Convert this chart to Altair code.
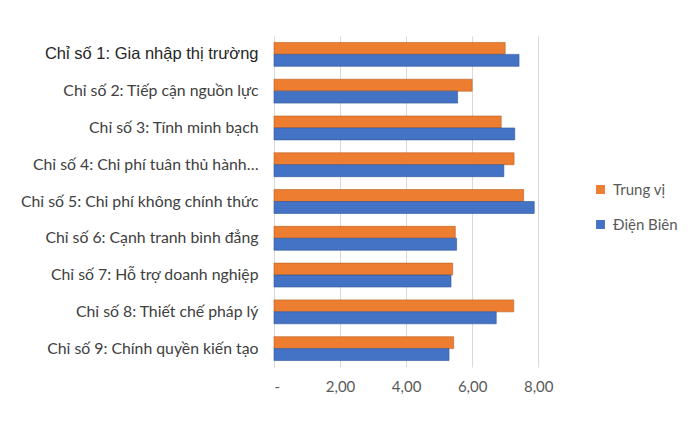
import altair as alt
import pandas as pd

categories = [
    "Chỉ số 1: Gia nhập thị trường",
    "Chỉ số 2: Tiếp cận nguồn lực",
    "Chỉ số 3: Tính minh bạch",
    "Chỉ số 4: Chi phí tuân thủ hành…",
    "Chỉ số 5: Chi phí không chính thức",
    "Chỉ số 6: Cạnh tranh bình đẳng",
    "Chỉ số 7: Hỗ trợ doanh nghiệp",
    "Chỉ số 8: Thiết chế pháp lý",
    "Chỉ số 9: Chính quyền kiến tạo",
]
series = ["Trung vị", "Điện Biên"]
trung_vi = [7.00, 6.00, 6.88, 7.27, 7.56, 5.49, 5.41, 7.26, 5.44]
dien_bien = [7.42, 5.56, 7.29, 6.96, 7.88, 5.53, 5.36, 6.73, 5.30]
colors = ["#ED7D31", "#4472C4"]

rows = []
for c, a, b in zip(categories, trung_vi, dien_bien):
    rows.append({"cat": c, "series": series[0], "value": a})
    rows.append({"cat": c, "series": series[1], "value": b})
df = pd.DataFrame(rows)

first = categories[0]

chart = alt.Chart(df).mark_bar(strokeWidth=0.6).encode(
    y=alt.Y("cat:N", sort=categories,
            scale=alt.Scale(paddingInner=0.35, paddingOuter=0.175),
            axis=alt.Axis(title=None, ticks=False, domain=False, grid=False,
                          labelPadding=16, minExtent=261, maxExtent=261,
                          labelLimit=300,
                          labelColor={"condition": {"test": f"datum.value == '{first}'", "value": "#262626"}, "value": "#404040"},
                          labelFont={"condition": {"test": f"datum.value == '{first}'", "value": "Liberation Sans"}, "value": "Lato"},
                          labelFontSize={"condition": {"test": f"datum.value == '{first}'", "value": 16.5}, "value": 15.8})),
    yOffset=alt.YOffset("series:N", sort=series),
    x=alt.X("value:Q",
            scale=alt.Scale(domain=[0, 8.6], nice=False),
            axis=alt.Axis(title=None, values=[0, 2, 4, 6, 8], ticks=False, domain=False,
                          gridColor="#D9D9D9", labelColor="#595959", labelFont="Lato",
                          labelFontSize=15, labelPadding=12,
                          labelExpr="datum.value == 0 ? '-' : replace(format(datum.value, '.2f'), '.', ',')")),
    color=alt.Color("series:N", sort=series,
                    scale=alt.Scale(domain=series, range=colors),
                    legend=alt.Legend(title=None, orient="none", legendX=319, legendY=146,
                                      symbolType="square", symbolSize=80, symbolStrokeWidth=0,
                                      labelFont="Lato", labelFontSize=15, labelColor="#595959",
                                      rowPadding=19, labelOffset=5)),
    stroke=alt.Stroke("series:N", sort=series,
                      scale=alt.Scale(domain=series, range=["#B85F20", "#2F5597"]),
                      legend=None),
).properties(
    width=284, height=331,
    padding={"top": 28, "left": 5, "right": 5, "bottom": 5},
).configure_view(stroke=None)

chart.save("out.html", embed_options={"renderer": "svg", "actions": False})
